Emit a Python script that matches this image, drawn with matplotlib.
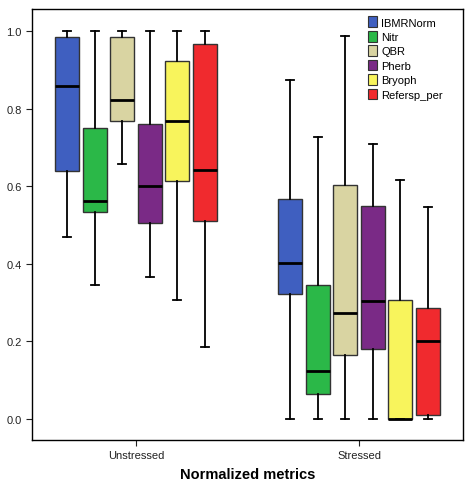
import numpy as np
import matplotlib.pyplot as plt
from matplotlib.patches import Patch

plt.rcParams['font.family'] = ['Liberation Sans', 'DejaVu Sans']

groups = ['Unstressed', 'Stressed']
metrics = ['IBMRNorm', 'Nitr', 'QBR', 'Pherb', 'Bryoph', 'Refersp_per']
colors = ['#3f5fc0', '#2bb848', '#d9d4a2', '#7a2a86', '#f8f45c', '#f02a2e']

# per metric: [low whisker, Q1, median, Q3, high whisker]
unstressed = [
    [0.470, 0.639, 0.859, 0.986, 1.000],
    [0.345, 0.534, 0.562, 0.750, 1.000],
    [0.658, 0.768, 0.823, 0.986, 1.000],
    [0.365, 0.506, 0.600, 0.761, 1.000],
    [0.308, 0.614, 0.769, 0.923, 1.000],
    [0.186, 0.510, 0.642, 0.967, 1.000],
]
stressed = [
    [0.0, 0.322, 0.402, 0.566, 0.874],
    [0.0, 0.065, 0.124, 0.345, 0.727],
    [0.0, 0.165, 0.274, 0.603, 0.987],
    [0.0, 0.180, 0.304, 0.548, 0.709],
    [0.0, 0.000, 0.001, 0.308, 0.616],
    [0.0, 0.010, 0.200, 0.287, 0.546],
]

fig = plt.figure(figsize=(4.75, 4.89), dpi=100)
ax = fig.add_axes([32/475, 1-441/489, (463-32)/475, (441-10)/489])

offset = 0.1233
width = 0.108
for g, data in enumerate([unstressed, stressed]):
    stats = []
    for lo, q1, med, q3, hi in data:
        stats.append(dict(whislo=lo, q1=q1, med=med, q3=q3, whishi=hi, fliers=[]))
    pos = [g + (i - 2.5) * offset for i in range(len(metrics))]
    bp = ax.bxp(stats, positions=pos, widths=width, patch_artist=True,
                showfliers=False, manage_ticks=False,
                boxprops=dict(linewidth=1.0, edgecolor='#333333'),
                whiskerprops=dict(linewidth=1.3, color='black'),
                capprops=dict(linewidth=1.3, color='black'),
                medianprops=dict(linewidth=2.0, color='black'),
                capwidths=0.035)
    for patch, c in zip(bp['boxes'], colors):
        patch.set_facecolor(c)

ax.set_xlim(-0.466, 1.466)
ax.set_ylim(-0.054, 1.057)
ax.set_xticks([0, 1])
ax.set_xticklabels(groups)
ax.set_yticks([0, 0.2, 0.4, 0.6, 0.8, 1.0])
ax.set_yticklabels(['0.0', '0.2', '0.4', '0.6', '0.8', '1.0'])
ax.tick_params(labelsize=8, length=4, width=0.8, colors='#222222')
ax.set_xlabel('Normalized metrics', fontsize=10.5, fontweight='bold', labelpad=5)
for s in ax.spines.values():
    s.set_linewidth(1.0)

handles = [Patch(facecolor=c, edgecolor='#333333', linewidth=0.8) for c in colors]
ax.legend(handles, metrics, loc='upper right', bbox_to_anchor=(0.977, 1.006),
          frameon=False, fontsize=8, handlelength=0.8, handleheight=1.1,
          handletextpad=0.4, labelspacing=0.3, borderaxespad=0.5)

fig.savefig('out.png', dpi=100)
